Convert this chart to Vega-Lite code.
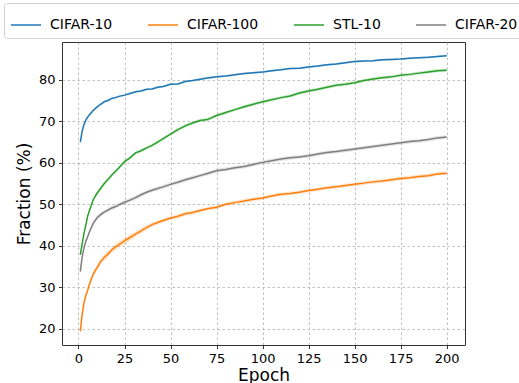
{
  "$schema": "https://vega.github.io/schema/vega-lite/v6.json",
  "width": 403,
  "height": 303,
  "autosize": "none",
  "padding": {"left": 62, "top": 42, "right": 54, "bottom": 38},
  "background": "white",
  "config": {
    "font": "DejaVu Sans",
    "view": {"stroke": "#333333", "strokeWidth": 1},
    "axis": {
      "domain": false,
      "grid": true,
      "gridColor": "#b0b0b0",
      "gridDash": [2.5, 2.5],
      "gridWidth": 0.8,
      "tickColor": "#333333",
      "tickSize": 3.5,
      "labelFontSize": 13,
      "labelColor": "#000000",
      "titleFontSize": 17,
      "titleFontWeight": "normal",
      "titleColor": "#000000"
    },
    "legend": {
      "orient": "none",
      "legendX": -58,
      "legendY": -39,
      "direction": "horizontal",
      "columns": 4,
      "gridAlign": "none",
      "columnPadding": 32,
      "symbolType": "stroke",
      "symbolSize": 900,
      "symbolStrokeWidth": 1.5,
      "symbolOpacity": 1,
      "labelFontSize": 14,
      "labelColor": "#000000",
      "labelOffset": 8,
      "padding": 6,
      "strokeColor": "#d0d0d0",
      "fillColor": "white",
      "cornerRadius": 3
    }
  },
  "data": {"values": [
    {"s":"CIFAR-10","e":1,"v":65.0,"d":0.3},{"s":"CIFAR-10","e":2,"v":67.6,"d":0.3},{"s":"CIFAR-10","e":3,"v":69.2,"d":0.3},{"s":"CIFAR-10","e":4,"v":70.3,"d":0.3},{"s":"CIFAR-10","e":5,"v":71.0,"d":0.3},{"s":"CIFAR-10","e":6,"v":71.6,"d":0.3},{"s":"CIFAR-10","e":8,"v":72.6,"d":0.25},{"s":"CIFAR-10","e":10,"v":73.4,"d":0.25},{"s":"CIFAR-10","e":12,"v":74.1,"d":0.25},{"s":"CIFAR-10","e":14,"v":74.7,"d":0.25},{"s":"CIFAR-10","e":16,"v":75.0,"d":0.25},{"s":"CIFAR-10","e":18,"v":75.5,"d":0.25},{"s":"CIFAR-10","e":20,"v":75.7,"d":0.25},{"s":"CIFAR-10","e":22,"v":76.0,"d":0.25},{"s":"CIFAR-10","e":25,"v":76.3,"d":0.25},{"s":"CIFAR-10","e":28,"v":76.7,"d":0.25},{"s":"CIFAR-10","e":31,"v":77.1,"d":0.25},{"s":"CIFAR-10","e":34,"v":77.3,"d":0.25},{"s":"CIFAR-10","e":37,"v":77.7,"d":0.25},{"s":"CIFAR-10","e":40,"v":77.8,"d":0.25},{"s":"CIFAR-10","e":43,"v":78.2,"d":0.25},{"s":"CIFAR-10","e":46,"v":78.4,"d":0.25},{"s":"CIFAR-10","e":50,"v":78.9,"d":0.25},{"s":"CIFAR-10","e":54,"v":79.0,"d":0.25},{"s":"CIFAR-10","e":58,"v":79.6,"d":0.25},{"s":"CIFAR-10","e":62,"v":79.8,"d":0.25},{"s":"CIFAR-10","e":66,"v":80.1,"d":0.25},{"s":"CIFAR-10","e":70,"v":80.4,"d":0.25},{"s":"CIFAR-10","e":75,"v":80.7,"d":0.25},{"s":"CIFAR-10","e":80,"v":80.9,"d":0.25},{"s":"CIFAR-10","e":85,"v":81.2,"d":0.25},{"s":"CIFAR-10","e":90,"v":81.5,"d":0.25},{"s":"CIFAR-10","e":95,"v":81.7,"d":0.25},{"s":"CIFAR-10","e":100,"v":81.9,"d":0.25},{"s":"CIFAR-10","e":105,"v":82.2,"d":0.25},{"s":"CIFAR-10","e":110,"v":82.4,"d":0.25},{"s":"CIFAR-10","e":115,"v":82.7,"d":0.25},{"s":"CIFAR-10","e":120,"v":82.8,"d":0.25},{"s":"CIFAR-10","e":125,"v":83.1,"d":0.25},{"s":"CIFAR-10","e":130,"v":83.3,"d":0.25},{"s":"CIFAR-10","e":135,"v":83.6,"d":0.25},{"s":"CIFAR-10","e":140,"v":83.8,"d":0.25},{"s":"CIFAR-10","e":145,"v":84.1,"d":0.25},{"s":"CIFAR-10","e":150,"v":84.4,"d":0.25},{"s":"CIFAR-10","e":155,"v":84.5,"d":0.25},{"s":"CIFAR-10","e":160,"v":84.6,"d":0.25},{"s":"CIFAR-10","e":165,"v":84.8,"d":0.25},{"s":"CIFAR-10","e":170,"v":84.9,"d":0.25},{"s":"CIFAR-10","e":175,"v":85.0,"d":0.25},{"s":"CIFAR-10","e":180,"v":85.2,"d":0.25},{"s":"CIFAR-10","e":185,"v":85.3,"d":0.25},{"s":"CIFAR-10","e":190,"v":85.4,"d":0.25},{"s":"CIFAR-10","e":195,"v":85.6,"d":0.25},{"s":"CIFAR-10","e":200,"v":85.8,"d":0.25},

    {"s":"CIFAR-100","e":1,"v":19.4,"d":0.5},{"s":"CIFAR-100","e":2,"v":23.5,"d":0.6},{"s":"CIFAR-100","e":3,"v":26.3,"d":0.6},{"s":"CIFAR-100","e":4,"v":28.0,"d":0.6},{"s":"CIFAR-100","e":5,"v":29.3,"d":0.6},{"s":"CIFAR-100","e":6,"v":30.8,"d":0.6},{"s":"CIFAR-100","e":8,"v":33.2,"d":0.7},{"s":"CIFAR-100","e":10,"v":34.7,"d":0.7},{"s":"CIFAR-100","e":12,"v":36.2,"d":0.8},{"s":"CIFAR-100","e":14,"v":37.2,"d":0.8},{"s":"CIFAR-100","e":16,"v":38.0,"d":0.8},{"s":"CIFAR-100","e":18,"v":39.0,"d":0.8},{"s":"CIFAR-100","e":20,"v":39.7,"d":0.8},{"s":"CIFAR-100","e":22,"v":40.3,"d":0.8},{"s":"CIFAR-100","e":25,"v":41.2,"d":0.8},{"s":"CIFAR-100","e":28,"v":42.0,"d":0.8},{"s":"CIFAR-100","e":31,"v":42.8,"d":0.7},{"s":"CIFAR-100","e":34,"v":43.6,"d":0.7},{"s":"CIFAR-100","e":37,"v":44.4,"d":0.6},{"s":"CIFAR-100","e":40,"v":45.1,"d":0.6},{"s":"CIFAR-100","e":43,"v":45.6,"d":0.5},{"s":"CIFAR-100","e":46,"v":46.1,"d":0.5},{"s":"CIFAR-100","e":50,"v":46.7,"d":0.5},{"s":"CIFAR-100","e":54,"v":47.1,"d":0.5},{"s":"CIFAR-100","e":58,"v":47.7,"d":0.5},{"s":"CIFAR-100","e":62,"v":48.0,"d":0.5},{"s":"CIFAR-100","e":66,"v":48.5,"d":0.45},{"s":"CIFAR-100","e":70,"v":48.9,"d":0.45},{"s":"CIFAR-100","e":75,"v":49.3,"d":0.45},{"s":"CIFAR-100","e":80,"v":50.0,"d":0.45},{"s":"CIFAR-100","e":85,"v":50.4,"d":0.45},{"s":"CIFAR-100","e":90,"v":50.8,"d":0.45},{"s":"CIFAR-100","e":95,"v":51.2,"d":0.45},{"s":"CIFAR-100","e":100,"v":51.5,"d":0.45},{"s":"CIFAR-100","e":105,"v":52.0,"d":0.45},{"s":"CIFAR-100","e":110,"v":52.4,"d":0.45},{"s":"CIFAR-100","e":115,"v":52.6,"d":0.45},{"s":"CIFAR-100","e":120,"v":52.9,"d":0.45},{"s":"CIFAR-100","e":125,"v":53.3,"d":0.45},{"s":"CIFAR-100","e":130,"v":53.6,"d":0.45},{"s":"CIFAR-100","e":135,"v":54.0,"d":0.45},{"s":"CIFAR-100","e":140,"v":54.2,"d":0.45},{"s":"CIFAR-100","e":145,"v":54.5,"d":0.45},{"s":"CIFAR-100","e":150,"v":54.8,"d":0.45},{"s":"CIFAR-100","e":155,"v":55.1,"d":0.45},{"s":"CIFAR-100","e":160,"v":55.4,"d":0.45},{"s":"CIFAR-100","e":165,"v":55.6,"d":0.45},{"s":"CIFAR-100","e":170,"v":55.9,"d":0.45},{"s":"CIFAR-100","e":175,"v":56.2,"d":0.45},{"s":"CIFAR-100","e":180,"v":56.4,"d":0.45},{"s":"CIFAR-100","e":185,"v":56.7,"d":0.45},{"s":"CIFAR-100","e":190,"v":56.9,"d":0.45},{"s":"CIFAR-100","e":195,"v":57.3,"d":0.45},{"s":"CIFAR-100","e":200,"v":57.5,"d":0.45},

    {"s":"STL-10","e":1,"v":37.8,"d":0.4},{"s":"STL-10","e":2,"v":40.5,"d":0.4},{"s":"STL-10","e":3,"v":43.0,"d":0.4},{"s":"STL-10","e":4,"v":45.0,"d":0.4},{"s":"STL-10","e":5,"v":47.2,"d":0.4},{"s":"STL-10","e":6,"v":48.5,"d":0.4},{"s":"STL-10","e":8,"v":51.1,"d":0.4},{"s":"STL-10","e":10,"v":52.6,"d":0.4},{"s":"STL-10","e":12,"v":53.8,"d":0.4},{"s":"STL-10","e":14,"v":55.0,"d":0.4},{"s":"STL-10","e":16,"v":56.0,"d":0.4},{"s":"STL-10","e":18,"v":57.0,"d":0.4},{"s":"STL-10","e":20,"v":57.9,"d":0.4},{"s":"STL-10","e":22,"v":58.8,"d":0.4},{"s":"STL-10","e":25,"v":60.3,"d":0.4},{"s":"STL-10","e":28,"v":61.2,"d":0.4},{"s":"STL-10","e":31,"v":62.4,"d":0.4},{"s":"STL-10","e":34,"v":62.9,"d":0.4},{"s":"STL-10","e":37,"v":63.6,"d":0.4},{"s":"STL-10","e":40,"v":64.2,"d":0.4},{"s":"STL-10","e":43,"v":65.0,"d":0.4},{"s":"STL-10","e":46,"v":65.8,"d":0.4},{"s":"STL-10","e":50,"v":66.9,"d":0.4},{"s":"STL-10","e":54,"v":68.0,"d":0.4},{"s":"STL-10","e":58,"v":68.9,"d":0.4},{"s":"STL-10","e":62,"v":69.6,"d":0.4},{"s":"STL-10","e":66,"v":70.2,"d":0.4},{"s":"STL-10","e":70,"v":70.4,"d":0.4},{"s":"STL-10","e":75,"v":71.4,"d":0.4},{"s":"STL-10","e":80,"v":72.1,"d":0.4},{"s":"STL-10","e":85,"v":72.8,"d":0.4},{"s":"STL-10","e":90,"v":73.5,"d":0.4},{"s":"STL-10","e":95,"v":74.1,"d":0.4},{"s":"STL-10","e":100,"v":74.7,"d":0.4},{"s":"STL-10","e":105,"v":75.2,"d":0.4},{"s":"STL-10","e":110,"v":75.7,"d":0.4},{"s":"STL-10","e":115,"v":76.1,"d":0.4},{"s":"STL-10","e":120,"v":76.8,"d":0.4},{"s":"STL-10","e":125,"v":77.3,"d":0.4},{"s":"STL-10","e":130,"v":77.7,"d":0.4},{"s":"STL-10","e":135,"v":78.2,"d":0.4},{"s":"STL-10","e":140,"v":78.7,"d":0.4},{"s":"STL-10","e":145,"v":78.9,"d":0.4},{"s":"STL-10","e":150,"v":79.3,"d":0.4},{"s":"STL-10","e":155,"v":79.8,"d":0.4},{"s":"STL-10","e":160,"v":80.2,"d":0.4},{"s":"STL-10","e":165,"v":80.5,"d":0.4},{"s":"STL-10","e":170,"v":80.7,"d":0.4},{"s":"STL-10","e":175,"v":81.1,"d":0.4},{"s":"STL-10","e":180,"v":81.3,"d":0.4},{"s":"STL-10","e":185,"v":81.6,"d":0.4},{"s":"STL-10","e":190,"v":81.9,"d":0.4},{"s":"STL-10","e":195,"v":82.2,"d":0.4},{"s":"STL-10","e":200,"v":82.3,"d":0.4},

    {"s":"CIFAR-20","e":1,"v":33.8,"d":0.4},{"s":"CIFAR-20","e":2,"v":37.3,"d":0.4},{"s":"CIFAR-20","e":3,"v":39.5,"d":0.4},{"s":"CIFAR-20","e":4,"v":41.1,"d":0.4},{"s":"CIFAR-20","e":5,"v":42.2,"d":0.4},{"s":"CIFAR-20","e":6,"v":43.4,"d":0.4},{"s":"CIFAR-20","e":8,"v":45.4,"d":0.5},{"s":"CIFAR-20","e":10,"v":46.7,"d":0.5},{"s":"CIFAR-20","e":12,"v":47.5,"d":0.5},{"s":"CIFAR-20","e":14,"v":48.1,"d":0.5},{"s":"CIFAR-20","e":16,"v":48.6,"d":0.5},{"s":"CIFAR-20","e":18,"v":49.1,"d":0.5},{"s":"CIFAR-20","e":20,"v":49.4,"d":0.5},{"s":"CIFAR-20","e":22,"v":49.9,"d":0.5},{"s":"CIFAR-20","e":25,"v":50.5,"d":0.5},{"s":"CIFAR-20","e":28,"v":51.0,"d":0.5},{"s":"CIFAR-20","e":31,"v":51.6,"d":0.5},{"s":"CIFAR-20","e":34,"v":52.3,"d":0.5},{"s":"CIFAR-20","e":37,"v":52.9,"d":0.5},{"s":"CIFAR-20","e":40,"v":53.4,"d":0.5},{"s":"CIFAR-20","e":43,"v":53.8,"d":0.5},{"s":"CIFAR-20","e":46,"v":54.2,"d":0.5},{"s":"CIFAR-20","e":50,"v":54.8,"d":0.5},{"s":"CIFAR-20","e":54,"v":55.3,"d":0.5},{"s":"CIFAR-20","e":58,"v":55.9,"d":0.5},{"s":"CIFAR-20","e":62,"v":56.4,"d":0.5},{"s":"CIFAR-20","e":66,"v":56.9,"d":0.45},{"s":"CIFAR-20","e":70,"v":57.4,"d":0.45},{"s":"CIFAR-20","e":75,"v":58.1,"d":0.45},{"s":"CIFAR-20","e":80,"v":58.4,"d":0.45},{"s":"CIFAR-20","e":85,"v":58.8,"d":0.45},{"s":"CIFAR-20","e":90,"v":59.1,"d":0.45},{"s":"CIFAR-20","e":95,"v":59.6,"d":0.45},{"s":"CIFAR-20","e":100,"v":60.1,"d":0.45},{"s":"CIFAR-20","e":105,"v":60.5,"d":0.45},{"s":"CIFAR-20","e":110,"v":60.9,"d":0.45},{"s":"CIFAR-20","e":115,"v":61.2,"d":0.45},{"s":"CIFAR-20","e":120,"v":61.4,"d":0.45},{"s":"CIFAR-20","e":125,"v":61.7,"d":0.45},{"s":"CIFAR-20","e":130,"v":62.1,"d":0.45},{"s":"CIFAR-20","e":135,"v":62.5,"d":0.45},{"s":"CIFAR-20","e":140,"v":62.7,"d":0.45},{"s":"CIFAR-20","e":145,"v":63.0,"d":0.45},{"s":"CIFAR-20","e":150,"v":63.3,"d":0.45},{"s":"CIFAR-20","e":155,"v":63.6,"d":0.45},{"s":"CIFAR-20","e":160,"v":63.9,"d":0.45},{"s":"CIFAR-20","e":165,"v":64.2,"d":0.45},{"s":"CIFAR-20","e":170,"v":64.5,"d":0.45},{"s":"CIFAR-20","e":175,"v":64.8,"d":0.45},{"s":"CIFAR-20","e":180,"v":65.1,"d":0.45},{"s":"CIFAR-20","e":185,"v":65.3,"d":0.45},{"s":"CIFAR-20","e":190,"v":65.6,"d":0.45},{"s":"CIFAR-20","e":195,"v":66.0,"d":0.45},{"s":"CIFAR-20","e":200,"v":66.2,"d":0.45}
  ]},
  "encoding": {
    "x": {
      "field": "e", "type": "quantitative", "title": "Epoch",
      "scale": {"domain": [-8.95, 209.95], "nice": false, "zero": false},
      "axis": {"values": [0, 25, 50, 75, 100, 125, 150, 175, 200], "labelPadding": 3.5, "titlePadding": 2}
    },
    "y": {
      "field": "v", "type": "quantitative", "title": "Fraction (%)",
      "scale": {"domain": [16.1, 89.1], "nice": false, "zero": false},
      "axis": {"values": [20, 30, 40, 50, 60, 70, 80], "labelPadding": 3.5, "titlePadding": 5}
    },
    "color": {
      "field": "s", "type": "nominal", "title": null,
      "scale": {"domain": ["CIFAR-10", "CIFAR-100", "STL-10", "CIFAR-20"], "range": ["#1f77b4", "#ff7f0e", "#2ca02c", "#7f7f7f"]}
    }
  },
  "layer": [
    {
      "mark": {"type": "errorband", "band": {"opacity": 0.2}},
      "encoding": {
        "yError": {"field": "d"}
      }
    },
    {
      "mark": {"type": "line", "strokeWidth": 1.5}
    }
  ]
}
